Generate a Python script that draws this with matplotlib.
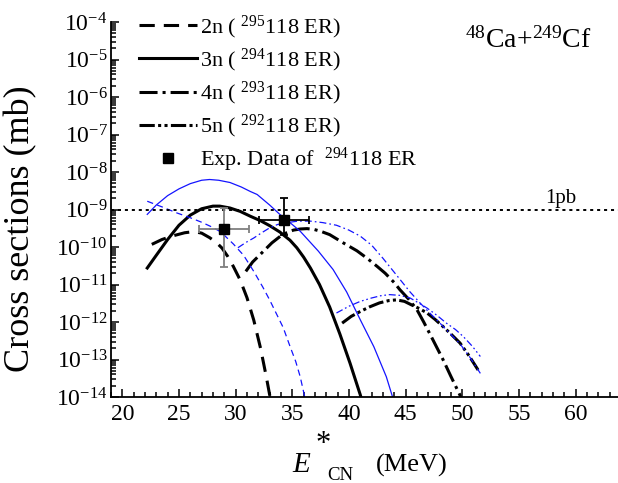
import numpy as np
import matplotlib
matplotlib.use('Agg')
import matplotlib.pyplot as plt
from matplotlib.ticker import LogLocator, MultipleLocator, NullFormatter, LogFormatterSciNotation

plt.rcParams['font.family'] = ['Liberation Serif', 'DejaVu Serif']
plt.rcParams['mathtext.fontset'] = 'custom'
plt.rcParams['mathtext.rm'] = 'Liberation Serif'
plt.rcParams['mathtext.it'] = 'Liberation Serif:italic'
plt.rcParams['mathtext.bf'] = 'Liberation Serif:bold'
plt.rcParams['lines.scale_dashes'] = False
plt.rcParams['axes.unicode_minus'] = False

# ---------------- data (log10 of cross section in mb) ----------------
# 2n, black (model A)
x_2n = [22.6, 23.5, 24.5, 25.5, 26.3, 27.0, 27.7, 28.3, 28.8, 29.3, 29.8, 30.4, 31.0, 31.6, 32.2, 32.7, 33.1]
lg_2n = [-9.93, -9.80, -9.70, -9.62, -9.59, -9.63, -9.75, -9.88, -10.03, -10.25, -10.52, -10.88, -11.35, -11.95, -12.70, -13.45, -14.10]
# 3n, black
x_3n = [22.2, 23.0, 24.0, 25.0, 26.0, 27.0, 28.0, 28.6, 29.5, 30.4, 31.3, 32.2, 33.0, 33.9, 34.8, 35.4, 36.0, 36.6, 37.4, 38.3, 39.2, 40.1, 41.0, 41.1]
lg_3n = [-10.56, -10.22, -9.80, -9.42, -9.15, -8.98, -8.91, -8.91, -8.96, -9.05, -9.18, -9.30, -9.43, -9.60, -9.82, -10.02, -10.27, -10.56, -11.00, -11.60, -12.32, -13.10, -13.94, -14.05]
# 4n, black
x_4n = [30.9, 31.5, 32.3, 33.2, 34.0, 34.5, 35.1, 35.7, 36.3, 36.9, 37.5, 38.3, 39.5, 40.7, 41.6, 42.5, 43.2, 44.0, 44.5, 45.3, 46.0, 46.6, 47.2, 48.3, 49.0, 49.8, 49.9]
lg_4n = [-10.65, -10.40, -10.16, -9.89, -9.70, -9.62, -9.55, -9.52, -9.51, -9.53, -9.58, -9.67, -9.89, -10.10, -10.30, -10.52, -10.70, -10.95, -11.14, -11.40, -11.67, -12.00, -12.35, -13.00, -13.45, -13.95, -14.05]
# 5n, black
x_5n = [39.4, 40.2, 41.0, 41.8, 42.7, 43.5, 44.2, 44.9, 45.5, 46.2, 46.9, 47.6, 48.3, 49.0, 49.8, 50.6, 51.4]
lg_5n = [-12.03, -11.85, -11.72, -11.60, -11.49, -11.43, -11.41, -11.45, -11.54, -11.64, -11.76, -11.93, -12.12, -12.32, -12.56, -12.90, -13.28]

# blue curves (model B)
xb_2n = [22.2, 23.5, 24.8, 26.0, 27.0, 28.0, 28.7, 29.8, 30.7, 31.6, 32.4, 33.0, 33.6, 34.2, 34.8, 35.3, 35.7, 36.1]
lgb_2n = [-8.78, -8.93, -9.09, -9.22, -9.34, -9.48, -9.60, -9.92, -10.22, -10.65, -11.07, -11.41, -11.78, -12.15, -12.65, -13.05, -13.46, -14.00]
xb_3n = [22.2, 23.0, 24.0, 25.0, 26.0, 27.0, 27.7, 28.5, 29.5, 30.5, 31.3, 31.9, 33.0, 33.9, 34.8, 35.7, 37.3, 38.6, 39.8, 41.0, 42.2, 43.3, 43.8, 43.9]
lgb_3n = [-9.13, -8.88, -8.63, -8.45, -8.31, -8.22, -8.20, -8.22, -8.28, -8.40, -8.52, -8.60, -8.88, -9.13, -9.35, -9.58, -10.11, -10.60, -11.20, -11.94, -12.66, -13.46, -13.95, -14.05]
xb_4n = [30.2, 30.9, 31.6, 32.3, 33.0, 33.7, 34.5, 35.5, 36.6, 37.7, 38.9, 40.0, 41.0, 42.0, 43.0, 43.8, 44.6, 45.4, 46.3, 47.2, 48.0, 48.9, 49.8, 50.7, 51.6]
lgb_4n = [-10.02, -9.88, -9.76, -9.62, -9.49, -9.40, -9.35, -9.31, -9.31, -9.35, -9.42, -9.55, -9.71, -9.95, -10.30, -10.60, -10.90, -11.20, -11.50, -11.78, -12.02, -12.30, -12.58, -12.95, -13.37]
xb_5n = [38.9, 40.0, 41.0, 42.0, 42.8, 43.6, 44.5, 45.4, 46.2, 46.9, 47.8, 48.6, 49.4, 50.1, 50.9, 51.6]
lgb_5n = [-11.76, -11.58, -11.45, -11.36, -11.30, -11.27, -11.29, -11.36, -11.50, -11.63, -11.83, -12.03, -12.20, -12.39, -12.65, -12.92]

# experimental data of 294-118
exp_x = [28.97, 34.3]
exp_y = [3.0e-10, 5.2e-10]
exp_xerr = [2.2, 2.2]
exp_yerr_lo = [2.7e-10, 3.1e-10]
exp_yerr_hi = [8.2e-10, 1.5e-9]
exp_colors = ['#7f7f7f', 'black']

one_pb = 1e-9

labels = [r'2n ( $^{295}$118 ER)', r'3n ( $^{294}$118 ER)',
          r'4n ( $^{293}$118 ER)', r'5n ( $^{292}$118 ER)',
          r'Exp. Data of  $^{294}$118 ER']

# ---------------- figure ----------------
W, H = 618, 483
fig = plt.figure(figsize=(W / 100, H / 100), dpi=100)
ax = fig.add_axes([111/W, (H-397)/H, (W-111)/W, (397-22)/H])

def sig(lg):
    return 10.0 ** np.asarray(lg)

lwk = 2.2
lwb = 0.9
blue = '#1414ff'
h2, = ax.plot(x_2n, sig(lg_2n), color='black', lw=lwk, dashes=(11, 6.5), label=labels[0])
h3, = ax.plot(x_3n, sig(lg_3n), color='black', lw=lwk, label=labels[1])
h4, = ax.plot(x_4n, sig(lg_4n), color='black', lw=lwk, dashes=(13, 3.6, 2.2, 3.6), label=labels[2])
h5, = ax.plot(x_5n, sig(lg_5n), color='black', lw=lwk, dashes=(11, 2.4, 2.2, 2.4, 2.2, 2.4), label=labels[3])

ax.plot(xb_2n, sig(lgb_2n), color=blue, lw=lwb, dashes=(4.5, 3))
ax.plot(xb_3n, sig(lgb_3n), color=blue, lw=lwb)
ax.plot(xb_4n, sig(lgb_4n), color=blue, lw=lwb, dashes=(5, 2.2, 1.2, 2.2))
ax.plot(xb_5n, sig(lgb_5n), color=blue, lw=lwb, dashes=(5, 2, 1.2, 2, 1.2, 2))

ax.axhline(one_pb, color='black', lw=1.4, dashes=(2.2, 2.8))

for i in range(len(exp_x)):
    ax.errorbar([exp_x[i]], [exp_y[i]], xerr=[exp_xerr[i]],
                yerr=[[exp_yerr_lo[i]], [exp_yerr_hi[i]]],
                fmt='none', ecolor=exp_colors[i], elinewidth=1.3, capsize=3, capthick=1.3, zorder=5)
hexp, = ax.plot(exp_x, exp_y, linestyle='none', marker='s', color='black', ms=6.5, zorder=6, label=labels[4])

ax.set_yscale('log')
ax.set_xlim(19, 19 + 507/11.33)
ax.set_ylim(1e-14, 1e-4)

ax.xaxis.set_major_locator(MultipleLocator(5))
ax.xaxis.set_minor_locator(MultipleLocator(1))
ax.yaxis.set_major_locator(LogLocator(base=10, numticks=20))
ax.yaxis.set_minor_locator(LogLocator(base=10, subs=np.arange(2, 10), numticks=20))
ax.yaxis.set_minor_formatter(NullFormatter())
ax.yaxis.set_major_formatter(LogFormatterSciNotation())

ax.spines['top'].set_visible(False)
ax.spines['right'].set_visible(False)
ax.spines['left'].set_linewidth(1.3)
ax.spines['bottom'].set_linewidth(1.3)
ax.tick_params(which='both', direction='in', width=1.1, labelsize=17)
ax.tick_params(which='major', length=6)
ax.tick_params(which='minor', length=3.5)
ax.tick_params(axis='x', pad=5)
ax.tick_params(axis='y', pad=2.5)

ax.set_ylabel('Cross sections (mb)', fontsize=26)
ax.yaxis.set_label_coords((37 - 111) / 507, (397 - 229) / 375)

# x label assembled as in the original: E, asterisk, CN subscript, (MeV)
def fx(px):
    return px / W

def fy(py):
    return 1 - py / H

fig.text(fx(292), fy(472), 'E', fontsize=21, style='italic', ha='left', va='baseline')
fig.text(fx(323), fy(452), '*', fontsize=22, ha='center', va='baseline')
fig.text(fx(327), fy(480), 'CN', fontsize=13.5, ha='left', va='baseline')
fig.text(fx(376), fy(472), '(MeV)', fontsize=19, ha='left', va='baseline')

ax.text(58.7, one_pb * 1.12, '1pb', fontsize=15, ha='center', va='bottom')
ax.text(55.8, 10 ** -4.5, r'$^{48}$Ca+$^{249}$Cf', fontsize=20, ha='center', va='center')

leg = ax.legend(handles=[h2, h3, h4, h5, hexp], loc='upper left',
                bbox_to_anchor=(0.055, 1.022), frameon=False, fontsize=16,
                handlelength=2.6, handletextpad=0.15, labelspacing=0.26,
                borderaxespad=0, borderpad=0, numpoints=1)

fig.savefig('out.png', dpi=100)
